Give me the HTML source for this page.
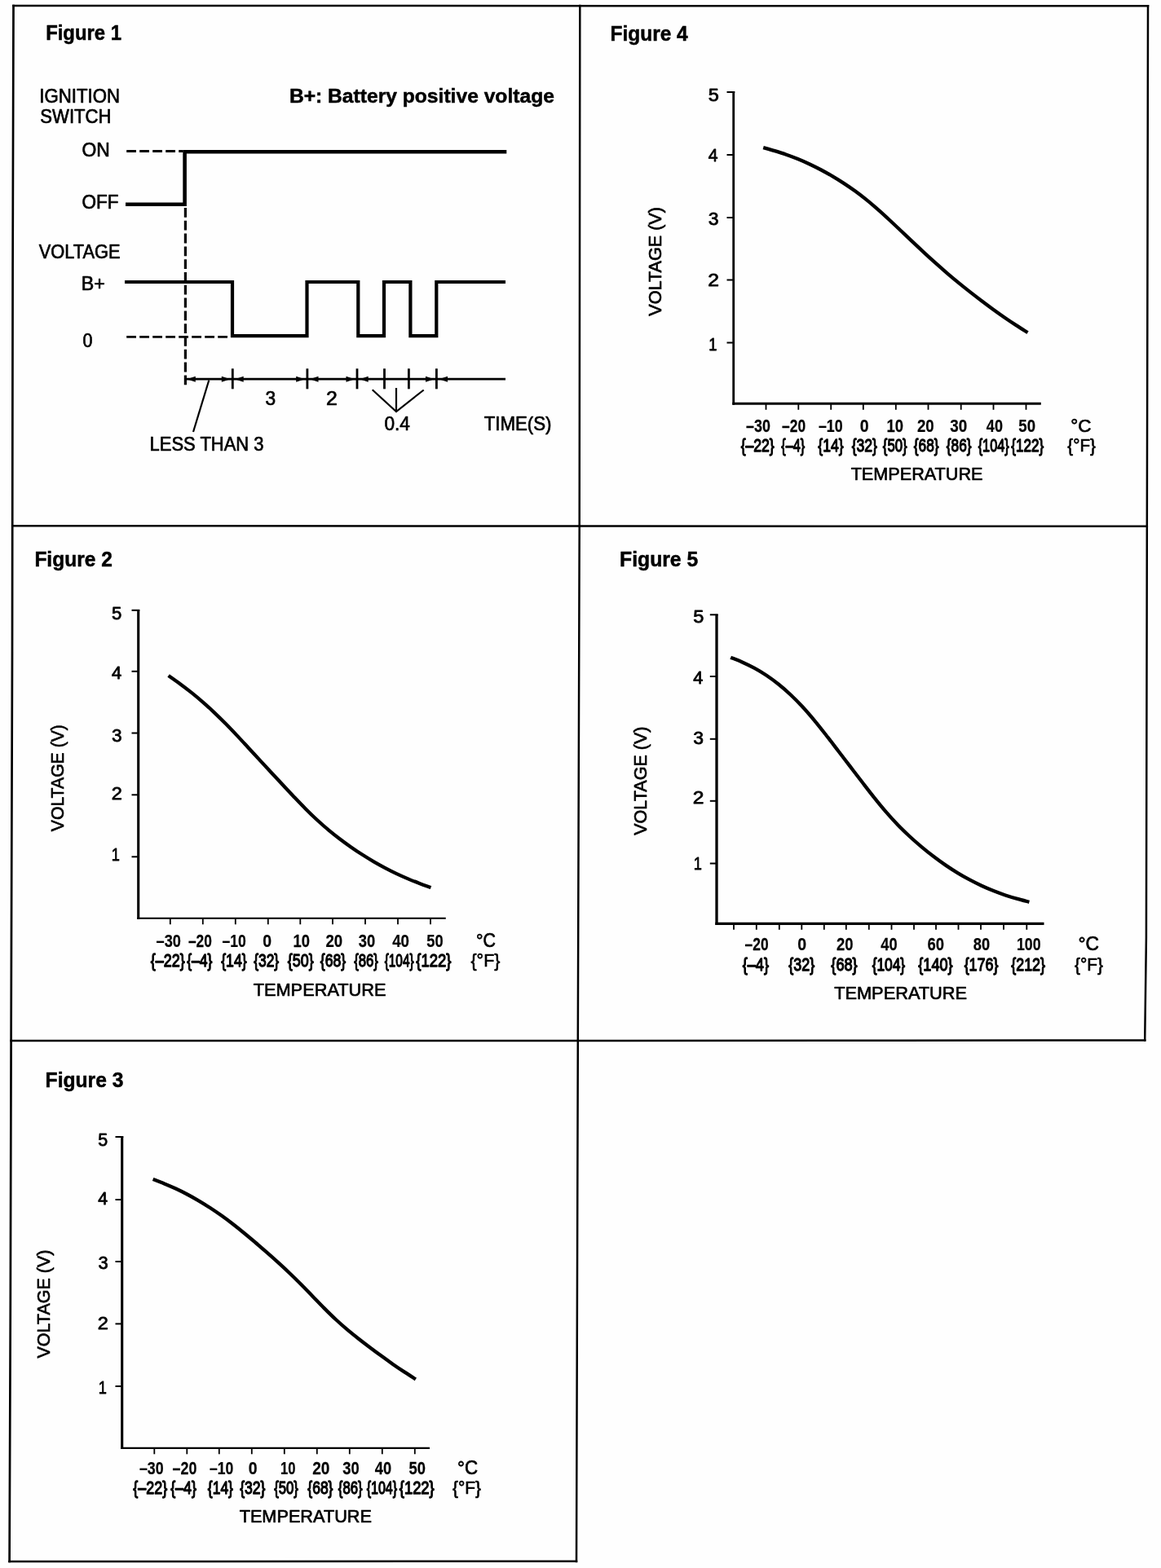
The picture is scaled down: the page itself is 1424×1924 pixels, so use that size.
<!DOCTYPE html>
<html lang="en">
<head>
<meta charset="utf-8">
<title>Figures 1-5</title>
<style>
html,body{margin:0;padding:0;background:#fff;}
body{width:1424px;height:1924px;overflow:hidden;}
svg{display:block;}
text{font-family:"Liberation Sans",Arial,Helvetica,sans-serif;fill:#000;stroke:#000;stroke-width:0.7px;stroke-linejoin:round;}
</style>
</head>
<body>
<svg width="1424" height="1924" viewBox="0 0 1424 1924">
<rect x="0" y="0" width="1424" height="1924" fill="#fefefe"/>
<g fill="none" stroke="#000" stroke-linecap="square">
<path d="M16.5 7 L15.6 330 L15 800 L13.6 1277 L12.8 1600 L11.6 1916" stroke-width="2.7"/>
<path d="M16.5 7 L1408 7.3" stroke-width="2.5"/>
<path d="M1408 7.3 L1407.3 400 L1406.8 650 L1405.9 1150 L1404.2 1276.4" stroke-width="2.5"/>
<path d="M711.3 7 L710.7 645.5 L708.8 1277 L707 1916" stroke-width="2.5"/>
<path d="M15.2 645.2 L710.7 645.5 L1406.8 645.8" stroke-width="2.5"/>
<path d="M13.6 1277 L708.8 1277 L1100 1276.8 L1404.2 1276.4" stroke-width="2.5"/>
<path d="M11.6 1916 L707 1915.8" stroke-width="2.5"/>
</g>
<g fill="none" stroke="#000" stroke-linecap="butt" stroke-linejoin="miter">
<path d="M154 250.8 L226.6 250.8 L226.6 186.3 L621.3 186.3" stroke-width="4.6" stroke-linecap="butt"/>
<path d="M155.2 185.5 L224.5 185.5" stroke-width="2.8" stroke-dasharray="11.8 4.2"/>
<path d="M227.4 255 L227.4 472.3" stroke-width="3.2" stroke-dasharray="11.8 4"/>
<path d="M155.2 413.4 L283 413.4" stroke-width="2.8" stroke-dasharray="11.8 4.2"/>
<path d="M153 346 L285 346 L285 412.2 L376.5 412.2 L376.5 346 L439.3 346 L439.3 412.2 L471 412.2 L471 346 L503.4 346 L503.4 412.2 L535.3 412.2 L535.3 346 L620 346" stroke-width="4.2"/>
<path d="M227.4 465.2 L620 465.2" stroke-width="2.8"/>
<path d="M285.3 452.3 L285.3 477.3" stroke-width="2.8"/>
<path d="M376.9 452.3 L376.9 477.3" stroke-width="2.8"/>
<path d="M438 452.3 L438 477.3" stroke-width="2.8"/>
<path d="M471.5 452.3 L471.5 477.3" stroke-width="2.8"/>
<path d="M501.4 452.3 L501.4 477.3" stroke-width="2.8"/>
<path d="M535.4 452.3 L535.4 477.3" stroke-width="2.8"/>
<path d="M256.3 466.5 L237 530" stroke-width="2.2"/>
<path d="M456.7 478.2 L486 505 L519.7 478.5" stroke-width="2.2"/>
<path d="M486 476 L486 505" stroke-width="2.2"/>
</g>
<path d="M229.3 465.2 L239.8 461.7 L239.8 468.7 Z" fill="#000" stroke="none"/>
<path d="M282.3 465.2 L271.8 461.7 L271.8 468.7 Z" fill="#000" stroke="none"/>
<path d="M288.2 465.2 L298.7 461.7 L298.7 468.7 Z" fill="#000" stroke="none"/>
<path d="M373.7 465.2 L363.2 461.7 L363.2 468.7 Z" fill="#000" stroke="none"/>
<path d="M380 465.2 L390.5 461.7 L390.5 468.7 Z" fill="#000" stroke="none"/>
<path d="M435 465.2 L424.5 461.7 L424.5 468.7 Z" fill="#000" stroke="none"/>
<path d="M441.2 465.2 L451.7 461.7 L451.7 468.7 Z" fill="#000" stroke="none"/>
<path d="M532.5 465.2 L522 461.7 L522 468.7 Z" fill="#000" stroke="none"/>
<path d="M538.5 465.2 L549 461.7 L549 468.7 Z" fill="#000" stroke="none"/>
<g fill="#000" font-family="'Liberation Sans', Arial, Helvetica, sans-serif">
<text transform="translate(56.14,49) scale(0.9469,1)" font-size="25.2" font-weight="bold" style="stroke-width:0.5px">Figure 1</text>
<text transform="translate(48.3,126.3) scale(0.9653,1)" font-size="23">IGNITION</text>
<text transform="translate(49.36,150.6) scale(0.9601,1)" font-size="23">SWITCH</text>
<text transform="translate(100.56,191.7) scale(0.9933,1)" font-size="23">ON</text>
<text transform="translate(100.58,256.2) scale(0.9788,1)" font-size="23">OFF</text>
<text transform="translate(47.74,317) scale(0.9488,1)" font-size="23">VOLTAGE</text>
<text transform="translate(99.73,355.7) scale(1.0093,1)" font-size="23">B+</text>
<text transform="translate(101.49,425.7) scale(0.9379,1)" font-size="23">0</text>
<text transform="translate(354.89,125.5) scale(1.0440,1)" font-size="23.6" font-weight="bold" style="stroke-width:0.5px">B+: Battery positive voltage</text>
<text transform="translate(325.5,496.7) scale(0.9886,1)" font-size="23">3</text>
<text transform="translate(400.11,496.5) scale(1.0798,1)" font-size="23">2</text>
<text transform="translate(471.45,528.4) scale(0.9830,1)" font-size="23">0.4</text>
<text transform="translate(593.65,528.4) scale(0.9688,1)" font-size="23">TIME(S)</text>
<text transform="translate(183.54,552.5) scale(0.9555,1)" font-size="23">LESS THAN 3</text>
</g>
<g fill="none" stroke="#000">
<path d="M891.5 113 L901.3 113" stroke-width="2"/>
<path d="M899.7 112.5 L899.7 496.75" stroke-width="2.8"/>
<path d="M898.3 495.3 L1276.8 495.3" stroke-width="2.9"/>
<path d="M891.5 190 L899.5 190" stroke-width="2"/>
<path d="M891.5 267 L899.5 267" stroke-width="2"/>
<path d="M891.5 343.5 L899.5 343.5" stroke-width="2"/>
<path d="M891.5 420.5 L899.5 420.5" stroke-width="2"/>
<path d="M939.5 495.3 L939.5 502.8" stroke-width="1.8"/>
<path d="M979.3 495.3 L979.3 502.8" stroke-width="1.8"/>
<path d="M1019.2 495.3 L1019.2 502.8" stroke-width="1.8"/>
<path d="M1058.8 495.3 L1058.8 502.8" stroke-width="1.8"/>
<path d="M1098.8 495.3 L1098.8 502.8" stroke-width="1.8"/>
<path d="M1138.5 495.3 L1138.5 502.8" stroke-width="1.8"/>
<path d="M1178.7 495.3 L1178.7 502.8" stroke-width="1.8"/>
<path d="M1218.5 495.3 L1218.5 502.8" stroke-width="1.8"/>
<path d="M1258.5 495.3 L1258.5 502.8" stroke-width="1.8"/>
<path d="M936.2 181.1 C938.55 181.77 945.6 183.7 950.3 185.12 C955 186.55 959.7 188.01 964.4 189.66 C969.1 191.3 973.8 193.06 978.5 194.99 C983.2 196.91 987.9 198.98 992.6 201.19 C997.3 203.4 1002 205.75 1006.7 208.24 C1011.4 210.73 1016.1 213.35 1020.8 216.12 C1025.5 218.88 1030.2 221.77 1034.9 224.84 C1039.6 227.91 1044.3 231.13 1049 234.56 C1053.7 237.99 1058.4 241.62 1063.1 245.43 C1067.8 249.24 1072.5 253.28 1077.2 257.42 C1081.9 261.56 1086.6 265.91 1091.3 270.26 C1096 274.61 1100.7 279.09 1105.4 283.54 C1110.1 287.98 1114.8 292.47 1119.5 296.9 C1124.2 301.33 1128.9 305.76 1133.6 310.1 C1138.3 314.44 1143 318.74 1147.7 322.95 C1152.4 327.15 1157.1 331.27 1161.8 335.3 C1166.5 339.33 1171.2 343.25 1175.9 347.1 C1180.6 350.95 1185.3 354.69 1190 358.38 C1194.7 362.07 1199.4 365.68 1204.1 369.23 C1208.8 372.78 1213.5 376.27 1218.2 379.67 C1222.9 383.08 1227.6 386.42 1232.3 389.66 C1237 392.89 1241.7 396.02 1246.4 399.09 C1251.1 402.17 1258.15 406.6 1260.5 408.1" stroke-width="4.3" stroke-linecap="butt"/>
</g>
<g fill="#000" font-family="'Liberation Sans', Arial, Helvetica, sans-serif">
<text transform="translate(748.6,50) scale(0.9705,1)" font-size="25.2" font-weight="bold" style="stroke-width:0.5px">Figure 4</text>
<text transform="translate(868.76,124.1) scale(1.0574,1)" font-size="22.3" style="stroke-width:0.8px">5</text>
<text transform="translate(868.72,197.9) scale(0.9501,1)" font-size="22.3" style="stroke-width:0.8px">4</text>
<text transform="translate(868.84,275.6) scale(1.0290,1)" font-size="22.3" style="stroke-width:0.8px">3</text>
<text transform="translate(868.17,351.4) scale(1.1038,1)" font-size="22.3" style="stroke-width:0.8px">2</text>
<text transform="translate(869.33,429.6) scale(0.8191,1)" font-size="22.3" style="stroke-width:0.8px">1</text>
<text transform="translate(915.09,530) scale(0.7838,1)" font-size="22.8" font-weight="bold" style="stroke-width:0.25px">–30</text>
<text transform="translate(959.1,530) scale(0.7619,1)" font-size="22.8" font-weight="bold" style="stroke-width:0.25px">–20</text>
<text transform="translate(1003.89,530) scale(0.7811,1)" font-size="22.8" font-weight="bold" style="stroke-width:0.25px">–10</text>
<text transform="translate(1054.85,530) scale(0.8541,1)" font-size="22.8" font-weight="bold" style="stroke-width:0.25px">0</text>
<text transform="translate(1087.47,530) scale(0.8075,1)" font-size="22.8" font-weight="bold" style="stroke-width:0.25px">10</text>
<text transform="translate(1124.97,530) scale(0.8157,1)" font-size="22.8" font-weight="bold" style="stroke-width:0.25px">20</text>
<text transform="translate(1165.2,530) scale(0.8269,1)" font-size="22.8" font-weight="bold" style="stroke-width:0.25px">30</text>
<text transform="translate(1209.85,530) scale(0.7920,1)" font-size="22.8" font-weight="bold" style="stroke-width:0.25px">40</text>
<text transform="translate(1249.32,530) scale(0.8138,1)" font-size="22.8" font-weight="bold" style="stroke-width:0.25px">50</text>
<text transform="translate(908.64,553.8) scale(0.7912,1)" font-size="22.2" style="stroke-width:1.3px">{–22}</text>
<text transform="translate(958.37,553.8) scale(0.7279,1)" font-size="22.2" style="stroke-width:1.3px">{–4}</text>
<text transform="translate(1003.34,553.8) scale(0.7925,1)" font-size="22.2" style="stroke-width:1.3px">{14}</text>
<text transform="translate(1044.64,553.8) scale(0.7925,1)" font-size="22.2" style="stroke-width:1.3px">{32}</text>
<text transform="translate(1082.86,553.8) scale(0.7538,1)" font-size="22.2" style="stroke-width:1.3px">{50}</text>
<text transform="translate(1120.85,553.8) scale(0.7744,1)" font-size="22.2" style="stroke-width:1.3px">{68}</text>
<text transform="translate(1160.85,553.8) scale(0.7744,1)" font-size="22.2" style="stroke-width:1.3px">{86}</text>
<text transform="translate(1199.67,553.8) scale(0.7325,1)" font-size="22.2" style="stroke-width:1.3px">{104}</text>
<text transform="translate(1240.35,553.8) scale(0.7677,1)" font-size="22.2" style="stroke-width:1.3px">{122}</text>
<text transform="translate(1313.3,530) scale(0.9780,1)" font-size="23">°C</text>
<text transform="translate(1309.29,553.8) scale(0.9146,1)" font-size="22.5">{°F}</text>
<text transform="translate(1043.66,589.2) scale(0.9574,1)" font-size="22.6">TEMPERATURE</text>
<text transform="translate(810.8,387.76) rotate(-90) scale(0.9742,1)" font-size="22.2">VOLTAGE (V)</text>
</g>
<g fill="none" stroke="#000">
<path d="M161.5 748.8 L171.3 748.8" stroke-width="2"/>
<path d="M169.7 748.3 L169.7 1127.85" stroke-width="3.1"/>
<path d="M168.15 1126.8 L546.8 1126.8" stroke-width="2.1"/>
<path d="M161.5 823.8 L169.5 823.8" stroke-width="2"/>
<path d="M161.5 899.5 L169.5 899.5" stroke-width="2"/>
<path d="M161.5 975.3 L169.5 975.3" stroke-width="2"/>
<path d="M161.5 1051.3 L169.5 1051.3" stroke-width="2"/>
<path d="M208.8 1126.8 L208.8 1134.3" stroke-width="1.8"/>
<path d="M248.8 1126.8 L248.8 1134.3" stroke-width="1.8"/>
<path d="M288.8 1126.8 L288.8 1134.3" stroke-width="1.8"/>
<path d="M328.8 1126.8 L328.8 1134.3" stroke-width="1.8"/>
<path d="M368.3 1126.8 L368.3 1134.3" stroke-width="1.8"/>
<path d="M408 1126.8 L408 1134.3" stroke-width="1.8"/>
<path d="M448 1126.8 L448 1134.3" stroke-width="1.8"/>
<path d="M488 1126.8 L488 1134.3" stroke-width="1.8"/>
<path d="M528 1126.8 L528 1134.3" stroke-width="1.8"/>
<path d="M206.6 829 C208.93 830.66 215.93 835.52 220.6 838.96 C225.26 842.4 229.93 845.91 234.59 849.64 C239.26 853.37 243.92 857.28 248.59 861.35 C253.25 865.43 257.92 869.69 262.58 874.1 C267.25 878.51 271.91 883.12 276.58 887.83 C281.24 892.55 285.91 897.45 290.57 902.39 C295.24 907.32 299.9 912.4 304.57 917.44 C309.23 922.48 313.9 927.58 318.57 932.63 C323.23 937.68 327.9 942.72 332.56 947.74 C337.23 952.76 341.89 957.78 346.56 962.77 C351.22 967.76 355.89 972.79 360.55 977.69 C365.22 982.59 369.88 987.5 374.55 992.17 C379.21 996.84 383.88 1001.4 388.54 1005.71 C393.21 1010.02 397.87 1014.12 402.54 1018.03 C407.2 1021.94 411.87 1025.63 416.53 1029.19 C421.2 1032.76 425.87 1036.14 430.53 1039.4 C435.2 1042.67 439.86 1045.79 444.53 1048.77 C449.19 1051.76 453.86 1054.6 458.52 1057.32 C463.19 1060.04 467.85 1062.62 472.52 1065.08 C477.18 1067.54 481.85 1069.87 486.51 1072.09 C491.18 1074.31 495.84 1076.39 500.51 1078.37 C505.17 1080.35 509.84 1082.17 514.5 1083.96 C519.17 1085.75 526.17 1088.24 528.5 1089.1" stroke-width="4.3" stroke-linecap="butt"/>
</g>
<g fill="#000" font-family="'Liberation Sans', Arial, Helvetica, sans-serif">
<text transform="translate(42.39,695) scale(0.9732,1)" font-size="25.2" font-weight="bold" style="stroke-width:0.5px">Figure 2</text>
<text transform="translate(137.02,760.1) scale(0.9913,1)" font-size="22.3" style="stroke-width:0.8px">5</text>
<text transform="translate(136.91,832.9) scale(0.9768,1)" font-size="22.3" style="stroke-width:0.8px">4</text>
<text transform="translate(137.06,910.1) scale(1.0101,1)" font-size="22.3" style="stroke-width:0.8px">3</text>
<text transform="translate(136.72,980.6) scale(1.0546,1)" font-size="22.3" style="stroke-width:0.8px">2</text>
<text transform="translate(136.83,1056) scale(0.8191,1)" font-size="22.3" style="stroke-width:0.8px">1</text>
<text transform="translate(191.58,1162) scale(0.7976,1)" font-size="22.8" font-weight="bold" style="stroke-width:0.25px">–30</text>
<text transform="translate(230.9,1162) scale(0.7619,1)" font-size="22.8" font-weight="bold" style="stroke-width:0.25px">–20</text>
<text transform="translate(272.6,1162) scale(0.7701,1)" font-size="22.8" font-weight="bold" style="stroke-width:0.25px">–10</text>
<text transform="translate(322.35,1162) scale(0.8541,1)" font-size="22.8" font-weight="bold" style="stroke-width:0.25px">0</text>
<text transform="translate(359.47,1162) scale(0.8075,1)" font-size="22.8" font-weight="bold" style="stroke-width:0.25px">10</text>
<text transform="translate(399.47,1162) scale(0.8157,1)" font-size="22.8" font-weight="bold" style="stroke-width:0.25px">20</text>
<text transform="translate(439.71,1162) scale(0.8060,1)" font-size="22.8" font-weight="bold" style="stroke-width:0.25px">30</text>
<text transform="translate(481.14,1162) scale(0.8211,1)" font-size="22.8" font-weight="bold" style="stroke-width:0.25px">40</text>
<text transform="translate(523.33,1162) scale(0.8011,1)" font-size="22.8" font-weight="bold" style="stroke-width:0.25px">50</text>
<text transform="translate(184.84,1186.3) scale(0.8069,1)" font-size="22.2" style="stroke-width:1.3px">{–22}</text>
<text transform="translate(229.14,1186.3) scale(0.7925,1)" font-size="22.2" style="stroke-width:1.3px">{–4}</text>
<text transform="translate(271.14,1186.3) scale(0.7976,1)" font-size="22.2" style="stroke-width:1.3px">{14}</text>
<text transform="translate(311.15,1186.3) scale(0.7847,1)" font-size="22.2" style="stroke-width:1.3px">{32}</text>
<text transform="translate(352.84,1186.3) scale(0.8054,1)" font-size="22.2" style="stroke-width:1.3px">{50}</text>
<text transform="translate(392.84,1186.3) scale(0.7925,1)" font-size="22.2" style="stroke-width:1.3px">{68}</text>
<text transform="translate(434.16,1186.3) scale(0.7538,1)" font-size="22.2" style="stroke-width:1.3px">{86}</text>
<text transform="translate(471.68,1186.3) scale(0.6933,1)" font-size="22.2" style="stroke-width:1.3px">{104}</text>
<text transform="translate(510.33,1186.3) scale(0.8324,1)" font-size="22.2" style="stroke-width:1.3px">{122}</text>
<text transform="translate(584.07,1162) scale(0.9270,1)" font-size="23">°C</text>
<text transform="translate(577.48,1186.3) scale(0.9498,1)" font-size="22.5">{°F}</text>
<text transform="translate(310.66,1221.7) scale(0.9634,1)" font-size="22.6">TEMPERATURE</text>
<text transform="translate(78.3,1020.26) rotate(-90) scale(0.9558,1)" font-size="22.2">VOLTAGE (V)</text>
</g>
<g fill="none" stroke="#000">
<path d="M870.8 754.3 L880.6 754.3" stroke-width="2"/>
<path d="M879 753.8 L879 1134.95" stroke-width="3.3"/>
<path d="M877.35 1133.3 L1280.5 1133.3" stroke-width="3.3"/>
<path d="M870.8 830 L878.8 830" stroke-width="2"/>
<path d="M870.8 906.8 L878.8 906.8" stroke-width="2"/>
<path d="M870.8 982.8 L878.8 982.8" stroke-width="2"/>
<path d="M870.8 1059.5 L878.8 1059.5" stroke-width="2"/>
<path d="M900 1133.3 L900 1140.8" stroke-width="1.8"/>
<path d="M927.8 1133.3 L927.8 1140.8" stroke-width="1.8"/>
<path d="M955.8 1133.3 L955.8 1140.8" stroke-width="1.8"/>
<path d="M983.3 1133.3 L983.3 1140.8" stroke-width="1.8"/>
<path d="M1010.8 1133.3 L1010.8 1140.8" stroke-width="1.8"/>
<path d="M1037.8 1133.3 L1037.8 1140.8" stroke-width="1.8"/>
<path d="M1065.8 1133.3 L1065.8 1140.8" stroke-width="1.8"/>
<path d="M1093.5 1133.3 L1093.5 1140.8" stroke-width="1.8"/>
<path d="M1121 1133.3 L1121 1140.8" stroke-width="1.8"/>
<path d="M1148 1133.3 L1148 1140.8" stroke-width="1.8"/>
<path d="M1175.5 1133.3 L1175.5 1140.8" stroke-width="1.8"/>
<path d="M1203 1133.3 L1203 1140.8" stroke-width="1.8"/>
<path d="M1231 1133.3 L1231 1140.8" stroke-width="1.8"/>
<path d="M1259.3 1133.3 L1259.3 1140.8" stroke-width="1.8"/>
<path d="M896.2 806.7 C898.64 807.7 905.97 810.5 910.85 812.7 C915.73 814.89 920.61 817.2 925.5 819.88 C930.38 822.55 935.26 825.5 940.14 828.77 C945.03 832.05 949.91 835.61 954.79 839.52 C959.67 843.43 964.56 847.66 969.44 852.25 C974.32 856.84 979.21 861.8 984.09 867.07 C988.97 872.35 993.85 878.03 998.74 883.89 C1003.62 889.75 1008.5 895.99 1013.38 902.21 C1018.27 908.44 1023.15 914.89 1028.03 921.26 C1032.91 927.63 1037.8 934.05 1042.68 940.43 C1047.56 946.81 1052.45 953.22 1057.33 959.54 C1062.21 965.86 1067.09 972.25 1071.98 978.35 C1076.86 984.45 1081.74 990.49 1086.62 996.14 C1091.51 1001.79 1096.39 1007.17 1101.27 1012.23 C1106.15 1017.29 1111.04 1022 1115.92 1026.52 C1120.8 1031.04 1125.69 1035.27 1130.57 1039.35 C1135.45 1043.44 1140.33 1047.31 1145.22 1051.02 C1150.1 1054.74 1154.98 1058.27 1159.86 1061.62 C1164.75 1064.96 1169.63 1068.13 1174.51 1071.1 C1179.39 1074.07 1184.28 1076.85 1189.16 1079.45 C1194.04 1082.06 1198.93 1084.48 1203.81 1086.75 C1208.69 1089.02 1213.57 1091.12 1218.46 1093.07 C1223.34 1095.02 1228.22 1096.8 1233.1 1098.44 C1237.99 1100.08 1242.87 1101.52 1247.75 1102.91 C1252.63 1104.3 1259.96 1106.15 1262.4 1106.8" stroke-width="4.3" stroke-linecap="butt"/>
</g>
<g fill="#000" font-family="'Liberation Sans', Arial, Helvetica, sans-serif">
<text transform="translate(760.08,695) scale(0.9815,1)" font-size="25.2" font-weight="bold" style="stroke-width:0.5px">Figure 5</text>
<text transform="translate(850.26,764.4) scale(1.0574,1)" font-size="22.3" style="stroke-width:0.8px">5</text>
<text transform="translate(850.21,838.9) scale(0.9679,1)" font-size="22.3" style="stroke-width:0.8px">4</text>
<text transform="translate(850.34,913.4) scale(1.0290,1)" font-size="22.3" style="stroke-width:0.8px">3</text>
<text transform="translate(849.67,985.6) scale(1.1038,1)" font-size="22.3" style="stroke-width:0.8px">2</text>
<text transform="translate(850.83,1067) scale(0.8191,1)" font-size="22.3" style="stroke-width:0.8px">1</text>
<text transform="translate(913.6,1166.3) scale(0.7619,1)" font-size="22.8" font-weight="bold" style="stroke-width:0.25px">–20</text>
<text transform="translate(978.15,1166.3) scale(0.8541,1)" font-size="22.8" font-weight="bold" style="stroke-width:0.25px">0</text>
<text transform="translate(1025.98,1166.3) scale(0.8073,1)" font-size="22.8" font-weight="bold" style="stroke-width:0.25px">20</text>
<text transform="translate(1080.35,1166.3) scale(0.8003,1)" font-size="22.8" font-weight="bold" style="stroke-width:0.25px">40</text>
<text transform="translate(1137.43,1166.3) scale(0.8092,1)" font-size="22.8" font-weight="bold" style="stroke-width:0.25px">60</text>
<text transform="translate(1193.83,1166.3) scale(0.8011,1)" font-size="22.8" font-weight="bold" style="stroke-width:0.25px">80</text>
<text transform="translate(1247.02,1166.3) scale(0.7777,1)" font-size="22.8" font-weight="bold" style="stroke-width:0.25px">100</text>
<text transform="translate(910.63,1190.8) scale(0.8183,1)" font-size="22.2" style="stroke-width:1.3px">{–4}</text>
<text transform="translate(967.34,1190.8) scale(0.8054,1)" font-size="22.2" style="stroke-width:1.3px">{32}</text>
<text transform="translate(1019.33,1190.8) scale(0.8183,1)" font-size="22.2" style="stroke-width:1.3px">{68}</text>
<text transform="translate(1069.65,1190.8) scale(0.7814,1)" font-size="22.2" style="stroke-width:1.3px">{104}</text>
<text transform="translate(1126.33,1190.8) scale(0.8128,1)" font-size="22.2" style="stroke-width:1.3px">{140}</text>
<text transform="translate(1182.64,1190.8) scale(0.8069,1)" font-size="22.2" style="stroke-width:1.3px">{176}</text>
<text transform="translate(1240.34,1190.8) scale(0.8030,1)" font-size="22.2" style="stroke-width:1.3px">{212}</text>
<text transform="translate(1322.48,1166.3) scale(0.9908,1)" font-size="23">°C</text>
<text transform="translate(1317.98,1190.8) scale(0.9281,1)" font-size="22.5">{°F}</text>
<text transform="translate(1023.16,1225.7) scale(0.9634,1)" font-size="22.6">TEMPERATURE</text>
<text transform="translate(792.8,1024.76) rotate(-90) scale(0.9705,1)" font-size="22.2">VOLTAGE (V)</text>
</g>
<g fill="none" stroke="#000">
<path d="M141.5 1395 L151.3 1395" stroke-width="2"/>
<path d="M149.7 1394.5 L149.7 1777.95" stroke-width="3.1"/>
<path d="M148.15 1776.8 L527 1776.8" stroke-width="2.3"/>
<path d="M141.5 1472 L149.5 1472" stroke-width="2"/>
<path d="M141.5 1548 L149.5 1548" stroke-width="2"/>
<path d="M141.5 1624.4 L149.5 1624.4" stroke-width="2"/>
<path d="M141.5 1701 L149.5 1701" stroke-width="2"/>
<path d="M189.3 1776.8 L189.3 1784.3" stroke-width="1.8"/>
<path d="M229.3 1776.8 L229.3 1784.3" stroke-width="1.8"/>
<path d="M268.8 1776.8 L268.8 1784.3" stroke-width="1.8"/>
<path d="M308.8 1776.8 L308.8 1784.3" stroke-width="1.8"/>
<path d="M348.8 1776.8 L348.8 1784.3" stroke-width="1.8"/>
<path d="M388.8 1776.8 L388.8 1784.3" stroke-width="1.8"/>
<path d="M428.8 1776.8 L428.8 1784.3" stroke-width="1.8"/>
<path d="M468.8 1776.8 L468.8 1784.3" stroke-width="1.8"/>
<path d="M508.8 1776.8 L508.8 1784.3" stroke-width="1.8"/>
<path d="M187.6 1446.9 C189.94 1447.82 196.94 1450.5 201.61 1452.44 C206.28 1454.38 210.96 1456.37 215.63 1458.55 C220.3 1460.72 224.97 1463.04 229.64 1465.51 C234.31 1467.98 238.98 1470.6 243.65 1473.35 C248.32 1476.11 252.99 1479 257.67 1482.04 C262.34 1485.08 267.01 1488.27 271.68 1491.61 C276.35 1494.94 281.02 1498.45 285.69 1502.06 C290.36 1505.67 295.03 1509.44 299.7 1513.26 C304.38 1517.09 309.05 1521.03 313.72 1525.01 C318.39 1528.99 323.06 1533.04 327.73 1537.15 C332.4 1541.26 337.07 1545.4 341.74 1549.66 C346.41 1553.91 351.09 1558.22 355.76 1562.69 C360.43 1567.16 365.1 1571.78 369.77 1576.48 C374.44 1581.19 379.11 1586.12 383.78 1590.93 C388.45 1595.74 393.12 1600.69 397.8 1605.37 C402.47 1610.05 407.14 1614.65 411.81 1618.99 C416.48 1623.32 421.15 1627.43 425.82 1631.38 C430.49 1635.33 435.16 1639.04 439.83 1642.71 C444.51 1646.38 449.18 1649.91 453.85 1653.43 C458.52 1656.95 463.19 1660.43 467.86 1663.84 C472.53 1667.26 477.2 1670.64 481.87 1673.9 C486.54 1677.15 491.22 1680.3 495.89 1683.39 C500.56 1686.47 507.56 1690.9 509.9 1692.4" stroke-width="4.3" stroke-linecap="butt"/>
</g>
<g fill="#000" font-family="'Liberation Sans', Arial, Helvetica, sans-serif">
<text transform="translate(55.59,1334.3) scale(0.9782,1)" font-size="25.2" font-weight="bold" style="stroke-width:0.5px">Figure 3</text>
<text transform="translate(120.34,1406.1) scale(0.9629,1)" font-size="22.3" style="stroke-width:0.8px">5</text>
<text transform="translate(120.22,1478.2) scale(0.9501,1)" font-size="22.3" style="stroke-width:0.8px">4</text>
<text transform="translate(120.38,1557.2) scale(0.9818,1)" font-size="22.3" style="stroke-width:0.8px">3</text>
<text transform="translate(119.72,1630.6) scale(1.0546,1)" font-size="22.3" style="stroke-width:0.8px">2</text>
<text transform="translate(120.83,1709.6) scale(0.8191,1)" font-size="22.3" style="stroke-width:0.8px">1</text>
<text transform="translate(170.89,1809.3) scale(0.7811,1)" font-size="22.8" font-weight="bold" style="stroke-width:0.25px">–30</text>
<text transform="translate(211.59,1809.3) scale(0.7838,1)" font-size="22.8" font-weight="bold" style="stroke-width:0.25px">–20</text>
<text transform="translate(257.1,1809.3) scale(0.7701,1)" font-size="22.8" font-weight="bold" style="stroke-width:0.25px">–10</text>
<text transform="translate(304.85,1809.3) scale(0.8541,1)" font-size="22.8" font-weight="bold" style="stroke-width:0.25px">0</text>
<text transform="translate(344.09,1809.3) scale(0.7292,1)" font-size="22.8" font-weight="bold" style="stroke-width:0.25px">10</text>
<text transform="translate(383.26,1809.3) scale(0.8369,1)" font-size="22.8" font-weight="bold" style="stroke-width:0.25px">20</text>
<text transform="translate(420.21,1809.3) scale(0.8060,1)" font-size="22.8" font-weight="bold" style="stroke-width:0.25px">30</text>
<text transform="translate(459.85,1809.3) scale(0.8003,1)" font-size="22.8" font-weight="bold" style="stroke-width:0.25px">40</text>
<text transform="translate(501.53,1809.3) scale(0.8053,1)" font-size="22.8" font-weight="bold" style="stroke-width:0.25px">50</text>
<text transform="translate(163.34,1833) scale(0.8069,1)" font-size="22.2" style="stroke-width:1.3px">{–22}</text>
<text transform="translate(209.14,1833) scale(0.8054,1)" font-size="22.2" style="stroke-width:1.3px">{–4}</text>
<text transform="translate(254.84,1833) scale(0.7873,1)" font-size="22.2" style="stroke-width:1.3px">{14}</text>
<text transform="translate(294.14,1833) scale(0.7925,1)" font-size="22.2" style="stroke-width:1.3px">{32}</text>
<text transform="translate(336.16,1833) scale(0.7538,1)" font-size="22.2" style="stroke-width:1.3px">{50}</text>
<text transform="translate(377.34,1833) scale(0.7873,1)" font-size="22.2" style="stroke-width:1.3px">{68}</text>
<text transform="translate(414.86,1833) scale(0.7538,1)" font-size="22.2" style="stroke-width:1.3px">{86}</text>
<text transform="translate(449.67,1833) scale(0.7227,1)" font-size="22.2" style="stroke-width:1.3px">{104}</text>
<text transform="translate(489.83,1833) scale(0.8265,1)" font-size="22.2" style="stroke-width:1.3px">{122}</text>
<text transform="translate(561.01,1809.3) scale(0.9695,1)" font-size="23">°C</text>
<text transform="translate(554.98,1833) scale(0.9281,1)" font-size="22.5">{°F}</text>
<text transform="translate(293.66,1868) scale(0.9604,1)" font-size="22.6">TEMPERATURE</text>
<text transform="translate(60.8,1666.56) rotate(-90) scale(0.9690,1)" font-size="22.2">VOLTAGE (V)</text>
</g>
</svg>
</body>
</html>
